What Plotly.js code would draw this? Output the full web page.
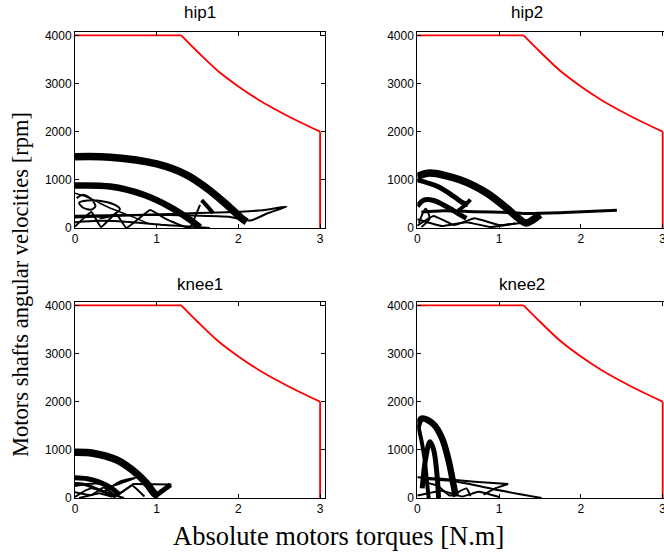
<!DOCTYPE html>
<html>
<head>
<meta charset="utf-8">
<script src="https://cdn.plot.ly/plotly-3.0.1.min.js"></script>
<style>
  html, body { margin: 0; padding: 0; background: #ffffff; }
  #chart { width: 664px; height: 553px; }
</style>
</head>
<body>
<div id="chart"></div>
<script>
// Motor operating envelope (torque limit vs speed), same for every joint
const envTau = [0, 1.3, 1.5, 1.75, 2.0, 2.25, 2.5, 2.75, 3.0, 3.0];
const envRpm = [4000, 4000, 3660, 3260, 2940, 2660, 2420, 2200, 2000, 0];

// Subplot titles and tick labels
const jointNames = ["hip1", "hip2", "knee1", "knee2"];
const rpmTicks = [0, 1000, 2000, 3000, 4000];
const tauTicks = [0, 1, 2, 3];

// ---- hip1 trajectories (|torque| N.m, speed rpm) ----
const hip1OuterTau = [0, 0.43, 1.0, 1.37, 1.61, 1.86, 2.04, 2.1];
const hip1OuterRpm = [1480, 1470, 1330, 1100, 830, 480, 200, 130];
const hip1InnerTau = [0, 0.43, 0.84, 1.16, 1.41, 1.53];
const hip1InnerRpm = [880, 860, 690, 440, 170, 15];
const hip1LinkTau = [1.55, 1.62, 1.69];
const hip1LinkRpm = [580, 450, 310];
const hip1LoopTau = [0, 0.5, 1.0, 1.5, 2.02, 2.3, 2.59, 2.35, 2.15, 1.9, 1.4, 0.9, 0.4, 0];
const hip1LoopRpm = [220, 250, 280, 310, 340, 370, 443, 300, 155, 230, 260, 275, 265, 255];
const hip1CurlTau = [0.02, 0.1, 0.2, 0.25, 0.2, 0.1, 0.05, 0.15, 0.35, 0.5, 0.55, 0.45, 0.3];
const hip1CurlRpm = [620, 690, 600, 450, 380, 420, 520, 570, 550, 470, 390, 260, 200];
const hip1ZigTau = [0, 0.2, 0.32, 0.5, 0.63, 0.92, 1.1, 1.4, 1.53];
const hip1ZigRpm = [30, 330, 20, 300, 0, 375, 200, 0, 480];
const hip1LowTau = [0, 0.3, 0.7, 1.1, 1.5, 1.65];
const hip1LowRpm = [120, 150, 120, 60, 20, 0];
const hip1FanTau = [0, 0.15, 0.3, 0.45, 0.6, 0.75, 0.9];
const hip1FanRpm = [720, 640, 520, 400, 300, 200, 90];

// ---- hip2 trajectories ----
const hip2OuterTau = [0, 0.155, 0.52, 0.85, 1.09, 1.21, 1.33, 1.5];
const hip2OuterRpm = [1071, 1141, 1002, 726, 415, 241, 104, 280];
const hip2BranchTau = [0, 0.25, 0.45, 0.55, 0.62];
const hip2BranchRpm = [1000, 860, 650, 530, 480];
const hip2LinkTau = [0.5, 0.58, 0.65];
const hip2LinkRpm = [360, 470, 590];
const hip2SmallTau = [0, 0.08, 0.2, 0.35, 0.5, 0.6];
const hip2SmallRpm = [450, 580, 570, 450, 300, 200];
const hip2SpikeTau = [0.05, 0.32, 0.7, 1.13, 1.35, 1.8, 2.44];
const hip2SpikeRpm = [330, 360, 340, 320, 300, 320, 366];
const hip2ZigTau = [0, 0.2, 0.45, 0.7, 1.0, 1.3];
const hip2ZigRpm = [50, 250, 60, 200, 60, 110];
const hip2LowTau = [0, 0.3, 0.6, 0.9, 1.2];
const hip2LowRpm = [180, 40, 120, 20, 100];
const hip2HookTau = [0.02, 0.1, 0.15, 0.05];
const hip2HookRpm = [100, 400, 200, 20];

// ---- knee1 trajectories ----
const knee1OuterTau = [0, 0.22, 0.51, 0.755, 0.88, 0.98, 1.02];
const knee1OuterRpm = [950, 930, 790, 507, 296, 80, 50];
const knee1VeeTau = [1.0, 1.08, 1.17];
const knee1VeeRpm = [60, 170, 275];
const knee1InnerTau = [0, 0.15, 0.3, 0.45, 0.55];
const knee1InnerRpm = [420, 400, 330, 200, 60];
const knee1TopTau = [0.72, 0.95, 1.18];
const knee1TopRpm = [290, 285, 280];
const knee1FanTau = [0, 0.25, 0.45, 0.6, 0.75, 0.55, 0.35];
const knee1FanRpm = [250, 300, 250, 330, 420, 340, 120];
const knee1ZigTau = [0, 0.2, 0.35, 0.5, 0.7, 0.85];
const knee1ZigRpm = [120, 60, 220, 50, 260, 30];
const knee1LowTau = [0.05, 0.3, 0.45, 0.6, 0.72];
const knee1LowRpm = [0, 100, 30, 150, 300];
const knee1HookTau = [0, 0.2, 0.4, 0.6];
const knee1HookRpm = [20, 200, 100, 0];
const knee1MidTau = [0, 0.12, 0.25, 0.38, 0.5];
const knee1MidRpm = [300, 280, 200, 110, 20];

// ---- knee2 trajectories ----
const knee2ArcATau = [0, 0.054, 0.2, 0.3, 0.38, 0.44, 0.47];
const knee2ArcARpm = [1450, 1650, 1530, 1250, 800, 300, 30];
const knee2ArcBTau = [0.01, 0.05, 0.09, 0.12, 0.14];
const knee2ArcBRpm = [1500, 1200, 800, 300, 0];
const knee2ArcCTau = [0.06, 0.1, 0.155, 0.2, 0.24, 0.26];
const knee2ArcCRpm = [200, 800, 1170, 1000, 500, 0];
const knee2VeeTau = [0, 0.3, 0.7, 1.11, 0.95, 0.81];
const knee2VeeRpm = [430, 400, 340, 290, 200, 70];
const knee2TailTau = [0.05, 0.47, 1.0, 1.52];
const knee2TailRpm = [400, 345, 160, 0];
const knee2ZigTau = [0, 0.3, 0.55, 0.75, 1.0];
const knee2ZigRpm = [50, 150, 30, 130, 20];
const knee2FanTau = [0.05, 0.25, 0.4, 0.6, 0.65];
const knee2FanRpm = [350, 250, 50, 200, 40];

const traces = [];
// smooth: 0 = straight segments, >0 = spline smoothing amount
function path(x, y, axis, width, smooth, color) {
  traces.push({
    type: "scatter", mode: "lines", x: x, y: y,
    xaxis: "x" + axis, yaxis: "y" + axis,
    line: {
      color: color || "#000000", width: width,
      shape: smooth > 0 ? "spline" : "linear", smoothing: smooth > 0 ? smooth : 1
    },
    hoverinfo: "skip"
  });
}

// hip1
path(hip1OuterTau, hip1OuterRpm, "", 7.5, 1);
path(hip1InnerTau, hip1InnerRpm, "", 6.5, 1);
path(hip1LinkTau, hip1LinkRpm, "", 4, 0.8);
path(hip1LoopTau, hip1LoopRpm, "", 2, 0.5);
path(hip1CurlTau, hip1CurlRpm, "", 2, 0.8);
path(hip1ZigTau, hip1ZigRpm, "", 2, 0.3);
path(hip1LowTau, hip1LowRpm, "", 2, 0.8);
path(hip1FanTau, hip1FanRpm, "", 1.5, 0.8);
// hip2
path(hip2OuterTau, hip2OuterRpm, "2", 7.5, 0.8);
path(hip2BranchTau, hip2BranchRpm, "2", 5, 1);
path(hip2LinkTau, hip2LinkRpm, "2", 4, 0.8);
path(hip2SmallTau, hip2SmallRpm, "2", 5, 1);
path(hip2SpikeTau, hip2SpikeRpm, "2", 3, 0.8);
path(hip2ZigTau, hip2ZigRpm, "2", 2, 0.3);
path(hip2LowTau, hip2LowRpm, "2", 2, 0.3);
path(hip2HookTau, hip2HookRpm, "2", 2, 0.8);
// knee1
path(knee1OuterTau, knee1OuterRpm, "3", 7.5, 1);
path(knee1VeeTau, knee1VeeRpm, "3", 5, 0);
path(knee1InnerTau, knee1InnerRpm, "3", 5, 1);
path(knee1TopTau, knee1TopRpm, "3", 2, 0);
path(knee1FanTau, knee1FanRpm, "3", 2, 0.7);
path(knee1ZigTau, knee1ZigRpm, "3", 2, 0.3);
path(knee1LowTau, knee1LowRpm, "3", 2, 0.3);
path(knee1HookTau, knee1HookRpm, "3", 2, 0.8);
path(knee1MidTau, knee1MidRpm, "3", 3, 1);
// knee2
path(knee2ArcATau, knee2ArcARpm, "4", 6.5, 1);
path(knee2ArcBTau, knee2ArcBRpm, "4", 4, 1);
path(knee2ArcCTau, knee2ArcCRpm, "4", 5, 1);
path(knee2VeeTau, knee2VeeRpm, "4", 2, 0);
path(knee2TailTau, knee2TailRpm, "4", 2, 0.6);
path(knee2ZigTau, knee2ZigRpm, "4", 2, 0.3);
path(knee2FanTau, knee2FanRpm, "4", 2, 0.5);

// envelope: flat torque-limited part, curved power-limited part, vertical edge
const n = envTau.length;
["", "2", "3", "4"].forEach(a => {
  path(envTau.slice(0, 2), envRpm.slice(0, 2), a, 1.8, 0, "#ff0000");
  path(envTau.slice(1, n - 1), envRpm.slice(1, n - 1), a, 1.8, 1, "#ff0000");
  path(envTau.slice(n - 2), envRpm.slice(n - 2), a, 1.8, 0, "#ff0000");
});

const W = 664, H = 553;
const colX = [[75 / W, 325 / W], [417.3 / W, 1]];
const rowY = [[(H - 228) / H, (H - 32) / H], [(H - 498) / H, (H - 302) / H]];
const tickFont = { family: "Liberation Sans, Arial, sans-serif", size: 12, color: "#000000" };

function xAxis(col, anchor) {
  return {
    domain: colX[col], anchor: anchor,
    range: col === 0 ? [0, 3.06] : [0, 3.016],
    tickvals: tauTicks, ticktext: tauTicks.map(String),
    ticks: "inside", ticklen: 4, tickwidth: 1, tickcolor: "#000000",
    ticklabeloverflow: "allow",
    showline: true, linecolor: "#000000", linewidth: 1, mirror: "ticks",
    showgrid: false, zeroline: false, tickfont: tickFont, fixedrange: true
  };
}
function yAxis(col, row, anchor) {
  return {
    domain: rowY[row], anchor: anchor,
    range: [0, 4070],
    tickvals: rpmTicks, ticktext: rpmTicks.map(String),
    ticks: "inside", ticklen: 4, tickwidth: 1, tickcolor: "#000000",
    showline: true, linecolor: "#000000", linewidth: 1,
    mirror: col === 0 ? "ticks" : false,
    showgrid: false, zeroline: false, tickfont: tickFont, fixedrange: true
  };
}

const titleFont = { family: "Liberation Sans, Arial, sans-serif", size: 17, color: "#000000" };
const serif = "Liberation Serif, Times New Roman, serif";
const titlePos = [[200, 13], [527, 13], [200, 284], [522, 284]];

const annotations = jointNames.map((name, i) => ({
  text: name, xref: "paper", yref: "paper",
  x: titlePos[i][0] / W, y: 1 - titlePos[i][1] / H,
  xanchor: "center", yanchor: "middle", showarrow: false, font: titleFont
}));
annotations.push({
  text: "Absolute motors torques [N.m]", xref: "paper", yref: "paper",
  x: 338 / W, y: 1 - 536 / H, xanchor: "center", yanchor: "middle",
  showarrow: false, font: { family: serif, size: 26.5, color: "#000000" }
});
annotations.push({
  text: "Motors shafts angular velocities [rpm]", xref: "paper", yref: "paper",
  x: 20 / W, y: 1 - 285 / H, xanchor: "center", yanchor: "middle",
  textangle: -90, showarrow: false, font: { family: serif, size: 22.5, color: "#000000" }
});

const layout = {
  width: W, height: H,
  margin: { l: 0, r: 0, t: 0, b: 0 },
  paper_bgcolor: "#ffffff", plot_bgcolor: "#ffffff",
  showlegend: false,
  xaxis: xAxis(0, "y"), yaxis: yAxis(0, 0, "x"),
  xaxis2: xAxis(1, "y2"), yaxis2: yAxis(1, 0, "x2"),
  xaxis3: xAxis(0, "y3"), yaxis3: yAxis(0, 1, "x3"),
  xaxis4: xAxis(1, "y4"), yaxis4: yAxis(1, 1, "x4"),
  annotations: annotations
};

Plotly.newPlot("chart", traces, layout, { displayModeBar: false, staticPlot: true });
</script>
</body>
</html>
